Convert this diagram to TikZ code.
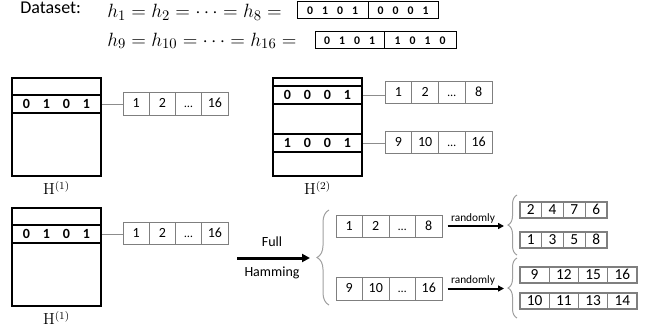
\documentclass[tikz,border=0pt]{standalone}
\usepackage[no-math]{fontspec}
\setmainfont{Carlito}
\usetikzlibrary{decorations.pathreplacing,arrows.meta}
\definecolor{cellgray}{HTML}{7F7F7F}
\definecolor{conngray}{HTML}{8C8C8C}
\definecolor{bracegray}{HTML}{A0A0A0}
\newcommand\fourbits[5]{\makebox[#1]{#2}\makebox[#1]{#3}\makebox[#1]{#4}\makebox[#1]{#5}}
\newcommand\eldots{{\fontsize{9}{10}\selectfont …}}
\newcommand\cellrow[7]{% #1 name, #2 style, #3 left x, #4 top y, #5 bottom y, #6 cell width, #7 labels
  \foreach \t [count=\i] in {#7} {
    \node[#2, minimum width=#6*0.75pt, minimum height=(#5-#4)*0.75pt]
      (#1-\i) at ({#3+(\i-0.5)*#6},{(#4+#5)/2}) {\t};
  }%
}
\begin{document}
\begin{tikzpicture}[x=0.75pt,y=-0.75pt,
  cell/.style={draw=cellgray,line width=0.75pt,inner sep=0pt,text height=0.64em,text depth=0pt,font=\fontsize{10.5}{12}\selectfont},
  bigcell/.style={draw=cellgray,line width=0.9pt,inner sep=0pt,text height=0.64em,text depth=0pt,font=\fontsize{11.5}{13}\selectfont},
  dsbox/.style={draw=black,line width=0.75pt,inner sep=0pt,minimum height=12.75pt,text height=0.64em,text depth=0pt,font=\bfseries\fontsize{8.8}{9}\selectfont},
  hbox/.style={draw=black,line width=1.5pt,minimum width=66.75pt,minimum height=73.5pt,inner sep=0pt},
  hrow/.style={draw=black,line width=1.5pt,minimum width=66.75pt,minimum height=13.5pt,inner sep=0pt,text height=0.64em,text depth=0pt,font=\bfseries\fontsize{10.5}{12}\selectfont},
  hlabel/.style={inner sep=0pt,font=\fontsize{11.5}{13}\selectfont},
  conn/.style={draw=conngray,line width=0.75pt},
  brc/.style={draw=bracegray,line width=0.75pt,decorate,decoration={brace,amplitude=#1}},
  bigarrow/.style={draw=black,line width=2.25pt,-{Triangle[length=6pt,width=6pt]}},
  midarrow/.style={draw=black,line width=1.5pt,-{Triangle[length=4.5pt,width=4.5pt]}},
  txt/.style={inner sep=0pt,font=\fontsize{10.5}{12}\selectfont},
  small/.style={inner sep=0pt,font=\fontsize{8.5}{10}\selectfont}
]
\useasboundingbox (0,0) rectangle (645,335);

% Dataset header
\node[anchor=base west,inner sep=0pt,font=\fontsize{13.5}{15}\selectfont] (ds) at (20,14) {Dataset:};
\node[anchor=base west,inner sep=0pt,font=\fontsize{15}{16}\selectfont] (eq1) at (107,17.5) {$h_1 = h_2 = \cdots = h_8 =$};
\node[anchor=base west,inner sep=0pt,font=\fontsize{15}{16}\selectfont] (eq2) at (107,46) {$h_9 = h_{10} = \cdots = h_{16} =$};
\node[dsbox,minimum width=53.25pt] (d1a) at (332.5,10.5) {\fourbits{11.25pt}{0}{1}{0}{1}};
\node[dsbox,minimum width=52.5pt] (d1b) at (403,10.5) {\fourbits{11.25pt}{0}{0}{0}{1}};
\node[dsbox,minimum width=51.75pt] (d2a) at (349.5,40.5) {\fourbits{11.25pt}{0}{1}{0}{1}};
\node[dsbox,minimum width=54pt] (d2b) at (420,40.5) {\fourbits{11.25pt}{1}{0}{1}{0}};

% H(1) top
\node[hbox] (H1) at (56.5,127) {};
\node[hrow] (H1r) at (56.5,104) {\fourbits{15pt}{0}{1}{0}{1}};
\node[hlabel] (H1l) at (56.5,188) {$\mathrm{H}^{(1)}$};
\cellrow{c1}{cell}{123}{92}{115}{26.25}{1,2,\eldots,16}
\draw[conn] (H1r.east) -- (H1r.east -| c1-1.west);

% H(2)
\node[hbox] (H2) at (317.5,127) {};
\node[hrow] (H2a) at (317.5,95) {\fourbits{15pt}{0}{0}{0}{1}};
\node[hrow] (H2b) at (317.5,143) {\fourbits{15pt}{1}{0}{0}{1}};
\node[hlabel] (H2l) at (317.5,188) {$\mathrm{H}^{(2)}$};
\cellrow{c2a}{cell}{385}{81}{103}{26.75}{1,2,\eldots,8}
\cellrow{c2b}{cell}{385}{131}{153}{26.75}{9,10,\eldots,16}
\draw[conn] (H2a.east) -- (H2a.east -| c2a-1.west);
\draw[conn] (H2b.east) -- (H2b.east -| c2b-1.west);

% H(1) bottom
\node[hbox] (H3) at (56.5,257) {};
\node[hrow] (H3r) at (56.5,234) {\fourbits{15pt}{0}{1}{0}{1}};
\node[hlabel] (H3l) at (56.5,318) {$\mathrm{H}^{(1)}$};
\cellrow{c3}{cell}{123}{222}{244}{26.25}{1,2,\eldots,16}
\draw[conn] (H3r.east) -- (H3r.east -| c3-1.west);

% Full Hamming arrow
\coordinate (fhs) at (237,258);
\coordinate (fhe) at (310,258);
\draw[bigarrow] (fhs) -- (fhe);
\node[txt] (full) at (272,242) {Full};
\node[txt] (ham) at (272,273) {Hamming};

% middle brace and cells
\draw[brc=9pt] (329,305) -- (329,210);
\cellrow{m1}{cell}{336}{215}{237}{26.5}{1,2,\eldots,8}
\cellrow{m2}{cell}{336}{277}{300}{26.5}{9,10,\eldots,16}

% randomly arrows
\coordinate (t1) at (504,226);
\coordinate (t2) at (504,288.5);
\draw[midarrow,shorten <=3.75pt] (m1-4.east) -- (m1-4.east -| t1);
\draw[midarrow,shorten <=3.75pt] (m2-4.east) -- (m2-4.east -| t2);
\node[small] (rl1) at (473,218) {randomly};
\node[small] (rl2) at (473,280.5) {randomly};

% right braces and cells
\draw[brc=6.75pt] (517,255) -- (517,195);
\draw[brc=6.75pt] (517,318) -- (517,258);
\cellrow{r1}{bigcell}{520}{202}{218}{21.75}{2,4,7,6}
\cellrow{r2}{bigcell}{520}{232}{248}{21.75}{1,3,5,8}
\cellrow{r3}{bigcell}{520}{267}{283}{29.25}{9,12,15,16}
\cellrow{r4}{bigcell}{520}{293}{309}{29.25}{10,11,13,14}
\end{tikzpicture}
\end{document}
